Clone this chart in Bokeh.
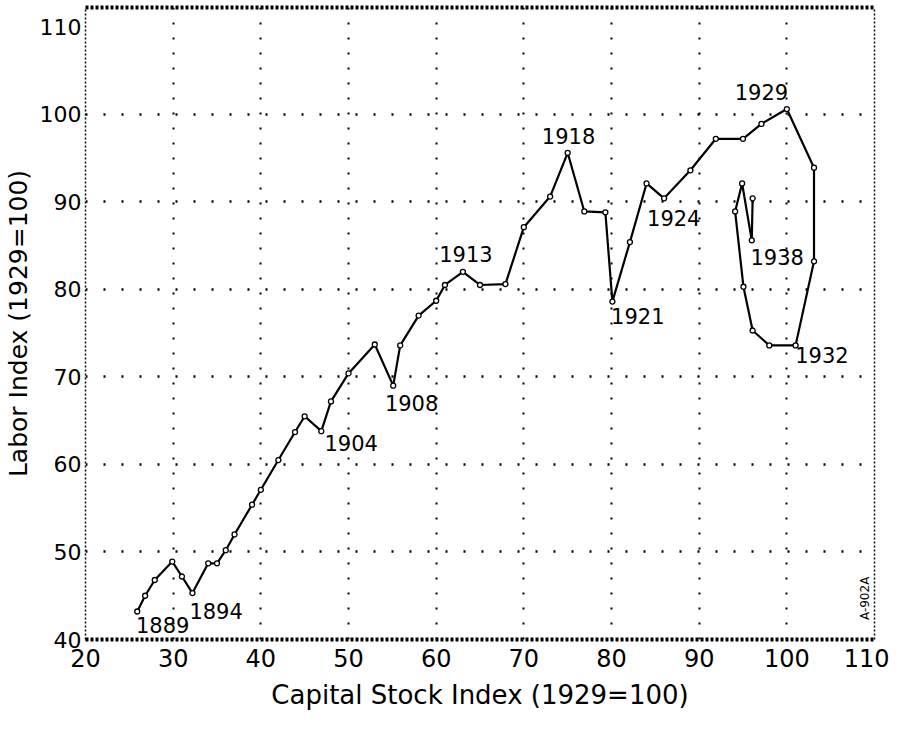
from bokeh.plotting import figure
from bokeh.models import Range1d, LinearAxis, FixedTicker, ColumnDataSource, Label
from bokeh.embed import file_html
from bokeh.resources import INLINE
from bokeh.core.properties import value
import math

# ---- data ----
years = list(range(1889, 1940))
capital = [25.9, 26.8, 27.9, 29.9, 31.0, 32.2, 34.0, 35.0, 36.0, 37.0,
           39.0, 40.0, 42.0, 43.9, 45.0, 46.9, 48.0, 50.0, 53.0, 55.1,
           55.9, 58.0, 60.0, 61.0, 63.05, 65.0, 67.9, 70.0, 73.0, 75.0,
           76.9, 79.3, 80.1, 82.1, 84.0, 86.0, 89.0, 91.9, 95.0, 97.1,
           100.0, 103.1, 103.1, 101.0, 98.0, 96.1, 95.05, 94.1, 94.9, 96.0,
           96.1]
labor = [43.2, 45.0, 46.8, 48.9, 47.2, 45.3, 48.7, 48.7, 50.2, 52.0,
         55.4, 57.1, 60.5, 63.7, 65.5, 63.8, 67.2, 70.4, 73.7, 69.0,
         73.6, 77.0, 78.7, 80.5, 82.0, 80.5, 80.6, 87.1, 90.6, 95.6,
         88.9, 88.8, 78.6, 85.4, 92.1, 90.4, 93.6, 97.2, 97.2, 98.9,
         100.6, 93.9, 83.2, 73.6, 73.6, 75.3, 80.3, 88.9, 92.1, 85.6,
         90.4]

label_text = ["1889", "1894", "1904", "1908", "1913", "1918", "1921",
              "1924", "1929", "1932", "1938"]
label_x = [28.8, 34.9, 50.3, 57.2, 63.4, 75.1, 83.0, 87.1, 97.1, 104.0, 98.9]
label_y = [41.6, 43.2, 62.4, 67.0, 84.0, 97.5, 77.0, 88.1, 102.5, 72.5, 83.7]

x_ticks = [20, 30, 40, 50, 60, 70, 80, 90, 100, 110]
y_ticks = [40, 50, 60, 70, 80, 90, 100, 110]
x_grid = [30, 40, 50, 60, 70, 80, 90, 100]
y_grid = [50, 60, 70, 80, 90, 100]

FONT = "DejaVu Sans"

p = figure(width=889, height=715,
           x_range=Range1d(20, 110), y_range=Range1d(40, 112.2),
           output_backend="svg", toolbar_location=None,
           min_border_left=80, min_border_right=15,
           min_border_top=7, min_border_bottom=76)
p.outline_line_color = None
p.background_fill_color = "white"

# axes
for ax in (p.xaxis[0], p.yaxis[0]):
    ax.major_tick_line_color = None
    ax.minor_tick_line_color = None
    ax.major_tick_out = 0
    ax.major_tick_in = 0
    ax.minor_tick_out = 0
    ax.minor_tick_in = 0
    ax.major_label_text_font = FONT
    ax.major_label_text_color = "black"
    ax.axis_label_text_font = FONT
    ax.axis_label_text_font_style = "normal"
    ax.axis_label_text_color = "black"

p.xaxis.ticker = FixedTicker(ticks=x_ticks)
p.yaxis.ticker = FixedTicker(ticks=y_ticks)
p.xaxis.axis_label = "Capital Stock Index (1929=100)"
p.yaxis.axis_label = "Labor Index (1929=100)"
p.xaxis.major_label_text_font_size = "24px"
p.yaxis.major_label_text_font_size = "22px"
p.xaxis.axis_label_text_font_size = "26px"
p.yaxis.axis_label_text_font_size = "25px"
p.xaxis.major_label_standoff = 9
p.yaxis.major_label_standoff = 4
p.xaxis.axis_label_standoff = 10
p.yaxis.axis_label_standoff = 4

p.xaxis.axis_line_color = "black"
p.xaxis.axis_line_width = 4
p.xaxis.axis_line_dash = "3 2"
p.yaxis.axis_line_color = "black"
p.yaxis.axis_line_width = 1.5
p.yaxis.axis_line_dash = "2 2"

top = LinearAxis(ticker=FixedTicker(ticks=[]), major_label_text_font_size="0px",
                 major_tick_line_color=None, minor_tick_line_color=None,
                 major_tick_out=0, minor_tick_out=0, major_label_standoff=0,
                 axis_line_width=4, axis_line_dash="3 2", axis_line_color="black")
right = LinearAxis(ticker=FixedTicker(ticks=[]), major_label_text_font_size="0px",
                   major_tick_line_color=None, minor_tick_line_color=None,
                   major_tick_out=0, minor_tick_out=0, major_label_standoff=0,
                   axis_line_width=1.5, axis_line_dash="2 2", axis_line_color="black")
p.add_layout(top, "above")
p.add_layout(right, "right")

# dotted grid
p.xgrid.ticker = FixedTicker(ticks=x_grid)
p.ygrid.ticker = FixedTicker(ticks=y_grid)
p.xgrid.grid_line_color = "black"
p.xgrid.grid_line_width = 2
p.xgrid.grid_line_dash = "2 13"
p.ygrid.grid_line_color = "black"
p.ygrid.grid_line_width = 2.5
p.ygrid.grid_line_dash = "2 16"

src = ColumnDataSource(dict(x=capital, y=labor, year=years))
p.line("x", "y", source=src, line_color="black", line_width=2.2)
p.scatter("x", "y", source=src, size=5, marker="circle",
          fill_color="white", line_color="black", line_width=1.3)

lab = ColumnDataSource(dict(x=label_x, y=label_y, t=label_text))
p.text("x", "y", text="t", source=lab, text_font=value(FONT),
       text_font_size="21px", text_align="center", text_baseline="middle",
       text_color="black")

p.add_layout(Label(x=108.9, y=44.7, text="A-902A", angle=math.pi / 2,
                   text_font=FONT, text_font_size="12px", text_align="center",
                   text_baseline="middle", text_color="black"))

open("out.html", "w").write(file_html(p, INLINE))
